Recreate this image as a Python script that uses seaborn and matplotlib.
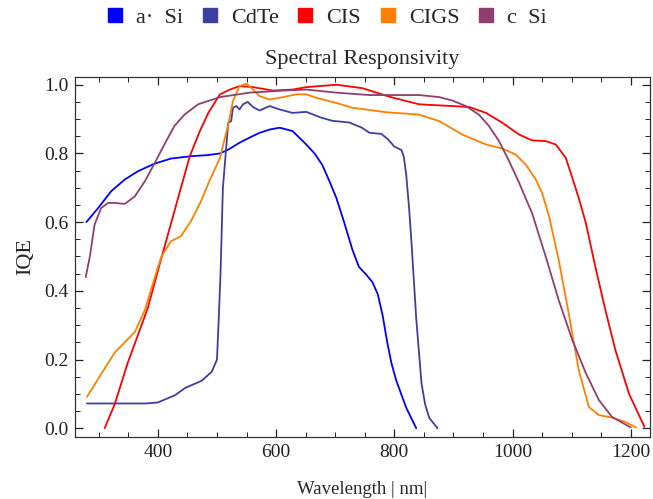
import seaborn as sns
import pandas as pd
import matplotlib
matplotlib.use("Agg")
import matplotlib.pyplot as plt
from matplotlib.lines import Line2D
from matplotlib.ticker import MultipleLocator

# values (wavelength nm, IQE)
asi_x = [279, 299, 321, 344, 366, 394, 422, 456, 484, 505, 520, 538, 555, 572, 590, 606, 628, 651, 665, 678, 690, 702, 715, 729, 740, 753, 763, 772, 780, 788, 795, 803, 820, 837]
asi_y = [0.60, 0.641, 0.69, 0.724, 0.748, 0.77, 0.785, 0.792, 0.795, 0.80, 0.812, 0.831, 0.846, 0.86, 0.87, 0.875, 0.865, 0.826, 0.80, 0.767, 0.72, 0.67, 0.60, 0.52, 0.47, 0.446, 0.425, 0.39, 0.33, 0.25, 0.19, 0.14, 0.06, 0.0]

cdte_x = [280, 380, 400, 429, 446, 474, 491, 500, 503, 506, 510, 516, 519, 524, 527, 533, 538, 544, 552, 561, 572, 589, 606, 628, 651, 675, 695, 724, 745, 758, 778, 790, 800, 812, 816, 820, 825, 829, 837, 846, 852, 859, 873]
cdte_y = [0.072, 0.072, 0.075, 0.096, 0.117, 0.138, 0.164, 0.2, 0.32, 0.45, 0.70, 0.826, 0.889, 0.894, 0.933, 0.938, 0.928, 0.943, 0.950, 0.935, 0.925, 0.938, 0.928, 0.918, 0.921, 0.905, 0.895, 0.89, 0.875, 0.86, 0.857, 0.84, 0.82, 0.81, 0.79, 0.74, 0.64, 0.54, 0.32, 0.13, 0.07, 0.03, 0.0]

cis_x = [310, 327, 349, 383, 406, 428, 454, 471, 486, 505, 522, 538, 561, 595, 628, 651, 702, 746, 792, 842, 898, 927, 955, 983, 1011, 1033, 1056, 1073, 1090, 1101, 1112, 1124, 1140, 1157, 1174, 1197, 1223]
cis_y = [0.0, 0.07, 0.19, 0.35, 0.496, 0.632, 0.792, 0.865, 0.92, 0.972, 0.986, 0.996, 0.993, 0.983, 0.986, 0.993, 1.0, 0.99, 0.965, 0.943, 0.938, 0.935, 0.918, 0.889, 0.855, 0.838, 0.836, 0.826, 0.787, 0.729, 0.67, 0.597, 0.47, 0.344, 0.227, 0.10, 0.004]

cigs_x = [280, 305, 327, 361, 378, 395, 406, 422, 439, 456, 473, 486, 505, 519, 527, 538, 550, 561, 572, 589, 612, 634, 651, 668, 700, 729, 786, 842, 876, 915, 955, 983, 1005, 1022, 1039, 1050, 1062, 1078, 1095, 1112, 1129, 1146, 1168, 1191, 1209]
cigs_y = [0.091, 0.16, 0.22, 0.28, 0.344, 0.44, 0.50, 0.544, 0.559, 0.603, 0.661, 0.715, 0.787, 0.884, 0.952, 0.996, 1.003, 0.986, 0.967, 0.957, 0.964, 0.972, 0.972, 0.962, 0.948, 0.933, 0.92, 0.913, 0.894, 0.855, 0.826, 0.814, 0.797, 0.768, 0.725, 0.685, 0.615, 0.49, 0.334, 0.169, 0.062, 0.038, 0.031, 0.018, 0.002]

csi_x = [278, 285, 293, 304, 316, 327, 344, 361, 378, 394, 411, 428, 445, 468, 484, 505, 555, 612, 651, 702, 758, 842, 876, 898, 921, 943, 960, 977, 994, 1011, 1022, 1033, 1056, 1078, 1101, 1124, 1146, 1168, 1200]
csi_y = [0.44, 0.50, 0.593, 0.641, 0.656, 0.656, 0.653, 0.675, 0.719, 0.77, 0.826, 0.88, 0.913, 0.943, 0.952, 0.964, 0.977, 0.983, 0.986, 0.977, 0.97, 0.97, 0.964, 0.954, 0.938, 0.913, 0.88, 0.836, 0.778, 0.715, 0.67, 0.626, 0.50, 0.373, 0.257, 0.16, 0.082, 0.033, 0.002]

names = ["a\u00b7  Si", "CdTe", "CIS", "CIGS", "c  Si"]
colors = ["#0000FF", "#3F3F9F", "#FF0000", "#FF8000", "#8F3F6F"]

frames = []
for name, xs, ys in zip(names, [asi_x, cdte_x, cis_x, cigs_x, csi_x], [asi_y, cdte_y, cis_y, cigs_y, csi_y]):
    frames.append(pd.DataFrame({"wl": xs, "iqe": ys, "cell": name}))
df = pd.concat(frames, ignore_index=True)

sns.set_style("ticks")
plt.rcParams["font.family"] = ["Liberation Serif", "DejaVu Serif"]

fig = plt.figure(figsize=(6.53, 4.99), dpi=100)
ax = fig.add_axes([0.115, 0.124, 0.88, 0.722])
sns.lineplot(data=df, x="wl", y="iqe", hue="cell", palette=dict(zip(names, colors)),
             sort=False, estimator=None, linewidth=1.3, legend=False, ax=ax)

ax.set_xlim(260, 1232)
ax.set_ylim(-0.026, 1.023)
ax.xaxis.set_major_locator(MultipleLocator(200))
ax.xaxis.set_minor_locator(MultipleLocator(50))
ax.yaxis.set_major_locator(MultipleLocator(0.2))
ax.yaxis.set_minor_locator(MultipleLocator(0.05))
ax.yaxis.set_major_formatter(plt.FuncFormatter(lambda v, p: f"{v:.1f}"))
ax.tick_params(which="both", direction="in", top=True, right=True, labelsize=14, colors="#222222")
ax.tick_params(which="major", length=6, width=0.9, pad=5)
ax.tick_params(which="minor", length=3.5, width=0.7)
for s in ax.spines.values():
    s.set_linewidth(0.9)
    s.set_color("#333333")

ax.set_xlabel("Wavelength | nm|", fontsize=13.5, labelpad=14)
ax.set_ylabel("IQE", fontsize=16, labelpad=6)
ax.set_title("Spectral Responsivity", fontsize=16, pad=9)

handles = [Line2D([], [], marker="s", linestyle="none", markersize=10, color=c) for c in colors]
fig.legend(handles, names, loc="upper center", bbox_to_anchor=(0.5, 1.026), ncol=5,
           frameon=False, fontsize=16, handletextpad=0.55, columnspacing=0.8, handlelength=0.8)

fig.savefig("out.png", dpi=100)
